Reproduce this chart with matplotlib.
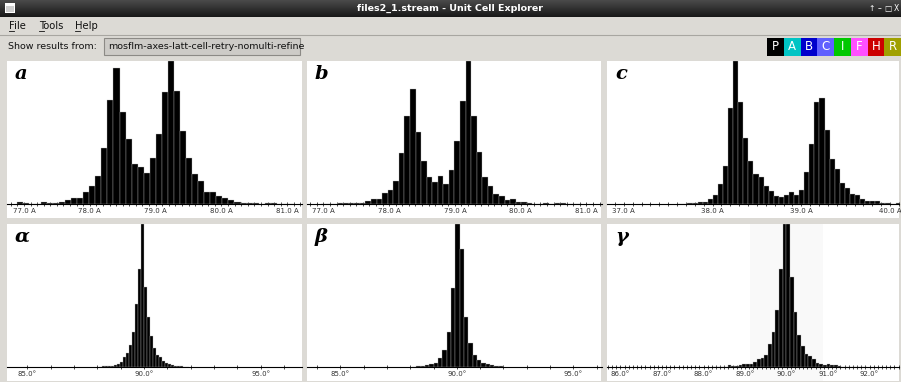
import numpy as np
import matplotlib
matplotlib.use("Agg")
import matplotlib.pyplot as plt
from matplotlib.patches import Rectangle
from matplotlib.ticker import MultipleLocator, FixedLocator, FixedFormatter

# ---------------- data (histogram counts) ----------------
a_bin_start, a_bin_width = 76.889, 0.0919
a_counts = [6, 2, 1, 1, 6, 3, 4, 5, 13, 19, 19, 37, 53, 85, 169, 312, 409, 277, 195, 119,
            112, 93, 137, 209, 335, 429, 339, 219, 139, 89, 69, 37, 35, 23, 17, 12, 5, 4,
            4, 4, 1, 2, 2, 1, 0, 1]

b_bin_start, b_bin_width = 76.963, 0.0846
b_counts = [1, 1, 1, 2, 3, 3, 4, 3, 8, 14, 16, 34, 41, 70, 153, 263, 344, 214, 129, 80,
            65, 83, 60, 103, 187, 308, 427, 262, 155, 80, 53, 30, 23, 11, 14, 5, 5, 3, 1,
            1, 3, 1, 3, 2, 0, 0, 1]

c_bin_start, c_bin_width = 37.602, 0.0572
c_counts = [1, 1, 2, 3, 7, 6, 16, 28, 59, 115, 287, 429, 307, 199, 129, 89, 81, 54, 40,
            23, 21, 27, 37, 28, 41, 95, 181, 307, 319, 222, 134, 104, 62, 47, 29, 26, 14,
            10, 9, 9, 2, 2, 1, 4, 4]

al_bin_start, al_bin_width = 88.085, 0.1286
al_counts = [1, 3, 2, 3, 4, 5, 8, 16, 29, 43, 66, 106, 189, 293, 429, 241, 151, 93, 56,
             36, 29, 19, 11, 8, 5, 4, 3, 2, 1, 1]

be_bin_start, be_bin_width = 88.08, 0.186
be_counts = [1, 2, 3, 5, 8, 13, 28, 51, 104, 236, 429, 354, 151, 73, 37, 20, 13, 8, 6, 4, 2]

ga_bin_start, ga_bin_width = 88.229, 0.0884
ga_counts = [1, 1, 1, 1, 5, 3, 3, 6, 8, 8, 10, 15, 23, 27, 37, 70, 105, 170, 295, 429,
             429, 270, 165, 95, 63, 40, 33, 23, 13, 10, 7, 9, 5, 5, 4, 1, 1, 0, 1, 1, 0, 1]

len_ticks = [77.0, 78.0, 79.0, 80.0, 81.0]
c_ticks = [37.0, 38.0, 39.0, 40.0]
ang_ticks = [85.0, 90.0, 95.0]
ga_ticks = [86.0, 87.0, 88.0, 89.0, 90.0, 91.0, 92.0]
ga_band = (89.12, 90.89)

window_title = "files2_1.stream - Unit Cell Explorer"
menu_items = ["File", "Tools", "Help"]
results_label = "Show results from:"
results_value = "mosflm-axes-latt-cell-retry-nomulti-refine"
lattice_buttons = ["P", "A", "B", "C", "I", "F", "H", "R"]
lattice_colors = ["#000000", "#00c4c4", "#0000cc", "#6060ff", "#00c800", "#ff50ff",
                  "#cc0000", "#a0a000"]

# ---------------- figure ----------------
W, H = 901, 382
BG = "#dcdad5"
fig = plt.figure(figsize=(W / 100, H / 100), dpi=100, facecolor=BG)

# header overlay in pixel coordinates
hdr = fig.add_axes([0, 0, 1, 1])
hdr.set_xlim(0, W)
hdr.set_ylim(H, 0)
hdr.axis("off")
hdr.patch.set_alpha(0)

grad = np.linspace(0, 1, 32).reshape(-1, 1)
hdr.imshow(grad, extent=(0, W, 17, 0), aspect="auto",
           cmap=matplotlib.colors.LinearSegmentedColormap.from_list("tb", ["#4a4a4a", "#181818"]),
           zorder=1)
hdr.add_patch(Rectangle((5, 3), 10, 10, facecolor="white", edgecolor="none", zorder=2))
hdr.add_patch(Rectangle((6, 5.5), 8, 6.5, facecolor="#cfcfcf", edgecolor="none", zorder=3))
hdr.text(450, 8.5, window_title, color="white", fontsize=6.8, fontweight="bold",
         ha="center", va="center", zorder=3)
for xx, s in zip([872, 880, 888, 896], ["↑", "–", "□", "X"]):
    hdr.text(xx, 8.5, s, color="white", fontsize=5.5, ha="center", va="center", zorder=3)

mx = 9
for item in menu_items:
    hdr.text(mx, 26, item, fontsize=7.2, color="#111111", ha="left", va="center")
    hdr.plot([mx, mx + 5], [31, 31], color="#111111", lw=0.6)
    mx += len(item) * 5.3 + 9
hdr.plot([0, W], [35, 35], color="#a8a6a1", lw=0.8)

hdr.text(8, 46.5, results_label, fontsize=6.8, color="#111111", ha="left", va="center")
hdr.add_patch(Rectangle((104, 38), 196, 17, facecolor="#cdcbc7", edgecolor="#8c8a86", lw=0.8))
hdr.text(108, 46.5, results_value, fontsize=6.8, color="#111111", ha="left", va="center")

bx = 767.3
for lab, col in zip(lattice_buttons, lattice_colors):
    hdr.add_patch(Rectangle((bx, 37.5), 16.7, 18, facecolor=col, edgecolor="none"))
    hdr.text(bx + 8.35, 46.7, lab, fontsize=8.5, color="white", ha="center", va="center")
    bx += 16.7


def panel(box, base, xlim, start, width, counts, ticks, fmt, minor, label, band=None):
    l, t, r, b = box
    ax = fig.add_axes([l / W, 1 - b / H, (r - l) / W, (b - t) / H])
    ax.set_facecolor("white")
    cnt = np.asarray(counts, dtype=float)
    ymax = cnt.max()
    scale = ymax / (base - t)
    ax.set_ylim(-(b - base) * scale, ymax)
    ax.set_xlim(*xlim)
    if band is not None:
        ax.axvspan(band[0], band[1], color="#f9f9f9", zorder=0, lw=0)
    edges = start + width * np.arange(len(cnt))
    ax.bar(edges, cnt, width=width, align="edge", color="black",
           edgecolor="#b8b8b8", linewidth=0.25, zorder=2)
    for s in ("top", "left", "right"):
        ax.spines[s].set_visible(False)
    ax.spines["bottom"].set_position(("data", 0))
    ax.spines["bottom"].set_linewidth(0.8)
    ax.spines["bottom"].set_zorder(3)
    ax.set_yticks([])
    ax.xaxis.set_major_locator(FixedLocator(ticks))
    ax.xaxis.set_major_formatter(FixedFormatter([fmt.format(v) for v in ticks]))
    ax.xaxis.set_minor_locator(MultipleLocator(minor))
    ax.tick_params(axis="x", which="both", direction="inout", length=3, width=0.5,
                   labelsize=5, pad=1.5, labelcolor="#333333")
    ax.text(8 / (r - l), 1 - 4 / (b - t), label, transform=ax.transAxes,
            fontsize=14, fontweight="bold", fontstyle="italic", family="DejaVu Serif",
            ha="left", va="top", zorder=5)
    return ax


panel((7, 61, 302, 218), 204, (76.742, 81.223), a_bin_start, a_bin_width, a_counts,
      len_ticks, "{:.1f} A", 0.1, "a")
panel((307, 61, 601.5, 218), 204, (76.75, 81.23), b_bin_start, b_bin_width, b_counts,
      len_ticks, "{:.1f} A", 0.1, "b")
panel((607, 61, 899, 218), 204, (36.81, 40.10), c_bin_start, c_bin_width, c_counts,
      c_ticks, "{:.1f} A", 0.1, "c")
panel((7, 224, 302, 381), 367, (84.13, 96.77), al_bin_start, al_bin_width, al_counts,
      ang_ticks, "{:.1f}°", 1.0, "α")
panel((307, 224, 601.5, 381), 367, (83.57, 96.21), be_bin_start, be_bin_width, be_counts,
      ang_ticks, "{:.1f}°", 1.0, "β")
panel((607, 224, 899, 381), 367, (85.675, 92.71), ga_bin_start, ga_bin_width, ga_counts,
      ga_ticks, "{:.1f}°", 0.1, "γ", band=ga_band)

fig.savefig("out.png", dpi=100, facecolor=BG)
